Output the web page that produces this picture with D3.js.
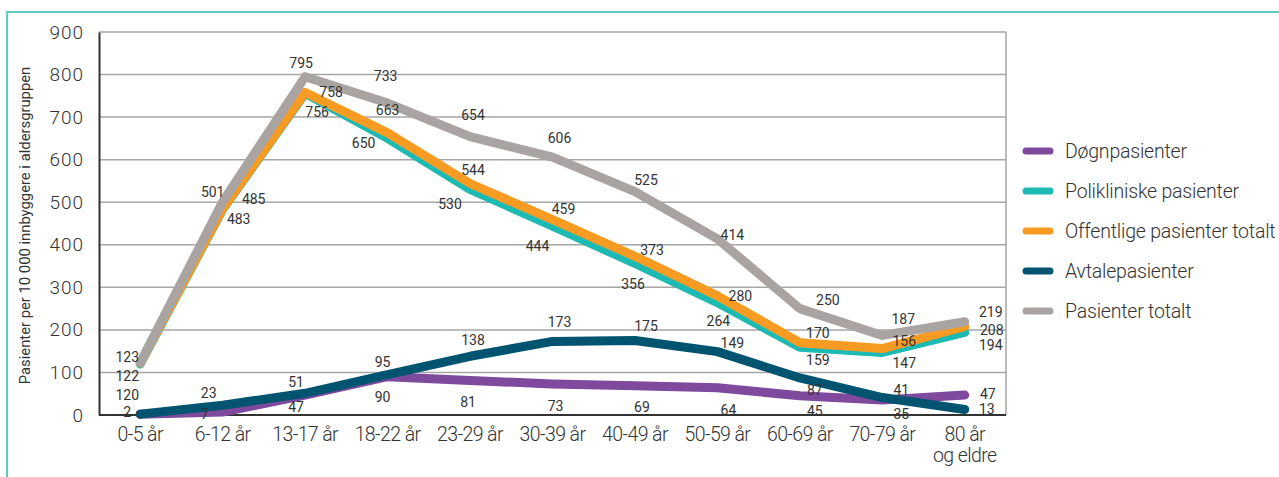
<!DOCTYPE html>
<html>
<head>
<meta charset="utf-8">
<script src="https://cdn.jsdelivr.net/npm/d3@7"></script>
<style>
  html, body { margin: 0; padding: 0; background: #fff; }
  svg { display: block; font-family: Roboto, "Open Sans", sans-serif; }
</style>
</head>
<body>
<svg id="chart" width="1279" height="477"></svg>
<script>
// Age groups (the last one wraps onto two lines)
const categories = ["0-5 år", "6-12 år", "13-17 år", "18-22 år", "23-29 år", "30-39 år",
                    "40-49 år", "50-59 år", "60-69 år", "70-79 år", "80 år\nog eldre"];

// Patients per 10 000 inhabitants in each age group
const dognpasienter      = [2, 7, 47, 90, 81, 73, 69, 64, 45, 35, 47];
const polikliniske       = [120, 483, 756, 650, 530, 444, 356, 264, 159, 147, 194];
const offentligeTotalt   = [122, 485, 758, 663, 544, 459, 373, 280, 170, 156, 208];
const avtalepasienter    = [2, 23, 51, 95, 138, 173, 175, 149, 87, 41, 13];
const pasienterTotalt    = [123, 501, 795, 733, 654, 606, 525, 414, 250, 187, 219];

const yTicks = [0, 100, 200, 300, 400, 500, 600, 700, 800, 900];
const yTitle = "Pasienter per 10 000 innbyggere i aldersgruppen";

const seriesNames = ["Døgnpasienter", "Polikliniske pasienter", "Offentlige pasienter totalt",
                     "Avtalepasienter", "Pasienter totalt"];

// Label offsets (dx, dy) from each point, per series, so the value labels don't collide
const labelOffsets = {
  "Døgnpasienter":               [[-13,-2],[-18,2],[-9,12],[-5,20],[-2,21],[3,22],[7,21],[11,22],[15,15],[19,14],[23,-1]],
  "Polikliniske pasienter":      [[-13,31],[16,10],[12,19],[-24,5],[-20,15],[-15,20],[-2,20],[1,18],[18,13],[22,11],[26,13]],
  "Offentlige pasienter totalt": [[-13,13],[31,-10],[26,0],[0,-23],[3,-13],[11,-11],[17,-6],[23,0],[18,-10],[22,-8],[27,4]],
  "Avtalepasienter":             [null,[-14,-12],[-9,-11],[-5,-13],[3,-16],[7,-19],[11,-15],[15,-9],[15,12],[19,-8],[22,0]],
  "Pasienter totalt":            [[-13,-6],[-10,-10],[-4,-14],[-2,-27],[3,-22],[7,-19],[11,-12],[15,-4],[28,-9],[21,-16],[26,-10]]
};

const colors = {
  "Døgnpasienter": "#7f4a9d",
  "Polikliniske pasienter": "#1dbab4",
  "Offentlige pasienter totalt": "#f79b22",
  "Avtalepasienter": "#015470",
  "Pasienter totalt": "#a9a4a1"
};

const seriesData = {
  "Døgnpasienter": dognpasienter,
  "Polikliniske pasienter": polikliniske,
  "Offentlige pasienter totalt": offentligeTotalt,
  "Avtalepasienter": avtalepasienter,
  "Pasienter totalt": pasienterTotalt
};

// Stacking order of the lines (later ones are drawn on top)
const drawOrder = ["Døgnpasienter", "Avtalepasienter", "Polikliniske pasienter",
                   "Offentlige pasienter totalt", "Pasienter totalt"];

const svg = d3.select("#chart");

// Frame around the figure
svg.append("rect")
  .attr("x", 7).attr("y", 12)
  .attr("width", 1300).attr("height", 500)
  .attr("fill", "none")
  .attr("stroke", "#5fcac4")
  .attr("stroke-width", 2);

const plot = { left: 99, right: 1006, top: 32, bottom: 415 };

const x = d3.scalePoint()
  .domain(categories)
  .range([plot.left, plot.right])
  .padding(0.5);

const y = d3.scaleLinear()
  .domain([0, 900])
  .range([plot.bottom, plot.top]);

// Horizontal gridlines
svg.append("g")
  .selectAll("line")
  .data(yTicks.filter(t => t > 0))
  .join("line")
  .attr("x1", plot.left).attr("x2", plot.right)
  .attr("y1", d => y(d)).attr("y2", d => y(d))
  .attr("stroke", "#a6a6a6")
  .attr("stroke-width", 1.5);

// Right border of plot area
svg.append("line")
  .attr("x1", plot.right).attr("x2", plot.right)
  .attr("y1", plot.top).attr("y2", plot.bottom)
  .attr("stroke", "#a6a6a6")
  .attr("stroke-width", 1.5);

// Y axis
const yAxis = svg.append("g")
  .attr("transform", `translate(${plot.left},0)`)
  .call(d3.axisLeft(y).tickValues(yTicks).tickSize(0).tickPadding(15));
yAxis.select(".domain").attr("stroke", "#333").attr("stroke-width", 2);
yAxis.selectAll("text")
  .attr("font-family", "Roboto, sans-serif")
  .attr("font-weight", 300)
  .attr("font-size", 19)
  .attr("letter-spacing", 1)
  .attr("fill", "#333");

// X axis
const xAxis = svg.append("g")
  .attr("transform", `translate(0,${plot.bottom})`)
  .call(d3.axisBottom(x).tickSize(0).tickPadding(0).tickFormat(""));
xAxis.select(".domain").attr("stroke", "#333").attr("stroke-width", 2)
  .attr("d", `M${plot.left},0H${plot.right}`);

const xLabels = svg.append("g");
categories.forEach(c => {
  const lines = c.split("\n");
  const t = xLabels.append("text")
    .attr("x", x(c))
    .attr("y", 441)
    .attr("text-anchor", "middle")
    .attr("font-size", 19.5)
    .attr("font-weight", 300)
    .attr("letter-spacing", -0.6)
    .attr("fill", "#333");
  lines.forEach((l, i) => {
    t.append("tspan").attr("x", x(c)).attr("dy", i === 0 ? 0 : 21).text(l);
  });
});

// Y axis title
svg.append("text")
  .attr("transform", `translate(30,${(plot.top + plot.bottom) / 2 + 2}) rotate(-90)`)
  .attr("text-anchor", "middle")
  .attr("font-size", 14.8)
  .attr("fill", "#333")
  .text(yTitle);

// Lines
const line = d3.line()
  .x((d, i) => x(categories[i]))
  .y(d => y(d));

drawOrder.forEach(name => {
  svg.append("path")
    .datum(seriesData[name])
    .attr("d", line)
    .attr("fill", "none")
    .attr("stroke", colors[name])
    .attr("stroke-width", 9)
    .attr("stroke-linejoin", "round")
    .attr("stroke-linecap", "round");
});

// Value labels
const labels = svg.append("g");
seriesNames.forEach(name => {
  seriesData[name].forEach((v, i) => {
    const off = labelOffsets[name][i];
    if (!off) return;
    labels.append("text")
      .attr("x", x(categories[i]) + off[0])
      .attr("y", y(v) + off[1])
      .attr("text-anchor", "middle")
      .attr("dominant-baseline", "central")
      .attr("font-size", 14)
      .attr("fill", "#333")
      .text(v);
  });
});

// Legend
const legend = svg.append("g");
seriesNames.forEach((name, i) => {
  const ly = 151 + i * 40;
  legend.append("line")
    .attr("x1", 1026).attr("x2", 1050)
    .attr("y1", ly).attr("y2", ly)
    .attr("stroke", colors[name])
    .attr("stroke-width", 7)
    .attr("stroke-linecap", "round");
  legend.append("text")
    .attr("x", 1065)
    .attr("y", ly)
    .attr("dominant-baseline", "central")
    .attr("font-size", 19.5)
    .attr("font-weight", 300)
    .attr("letter-spacing", -0.2)
    .attr("fill", "#333")
    .text(name);
});
</script>
</body>
</html>
